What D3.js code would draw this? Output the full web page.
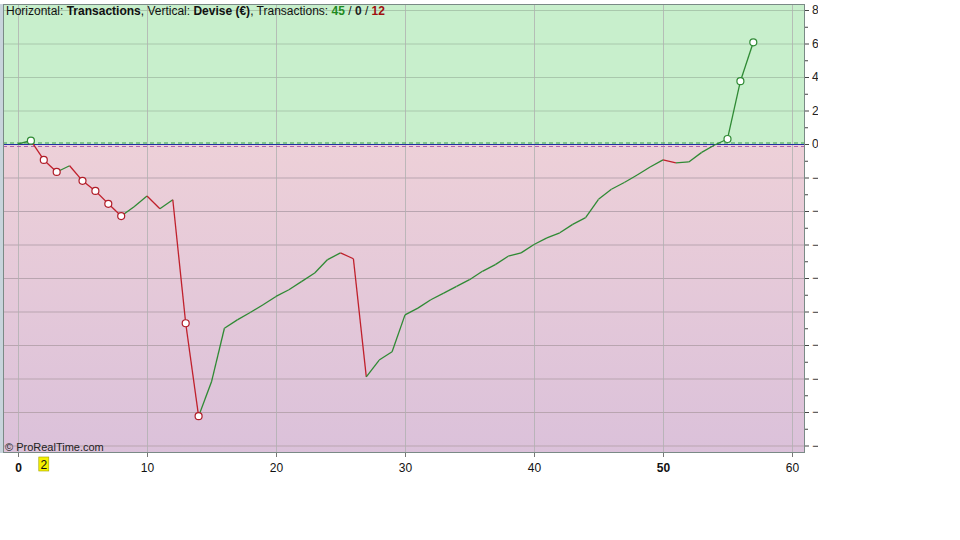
<!DOCTYPE html>
<html>
<head>
<meta charset="utf-8">
<script src="https://cdn.jsdelivr.net/npm/d3@7"></script>
<style>
  body { margin: 0; background: #fff; }
  svg { font-family: "Liberation Sans", Arial, sans-serif; }
</style>
</head>
<body>
<div id="chart"></div>
<script>
var width = 960;
var height = 540;

// equity curve, one value per closed transaction (Devise, €)
var equity = [0, 0.2, -0.95, -1.67, -1.3, -2.2, -2.8, -3.57, -4.3, -3.75,
    -3.1, -3.87, -3.33, -10.7, -16.25, -14.2, -11, -10.5, -10.06, -9.6,
    -9.1, -8.7, -8.2, -7.7, -6.9, -6.5, -6.85, -13.9, -12.9, -12.4,
    -10.2, -9.8, -9.3, -8.9, -8.5, -8.1, -7.6, -7.2, -6.7, -6.5,
    -6, -5.6, -5.3, -4.8, -4.4, -3.3, -2.7, -2.3, -1.85, -1.37,
    -0.95, -1.13, -1.07, -0.5, -0.06, 0.3, 3.75, 6.07];
var markedPoints = [1, 2, 3, 5, 6, 7, 8, 13, 14, 55, 56, 57];
var xTicks = [0, 10, 20, 30, 40, 50, 60];
var xBoldTicks = [0, 50];
var yMajor = d3.range(-18, 9, 2);
var yMinor = d3.range(-17, 9, 2);

var plot = { left: 3, right: 805, top: 4, bottom: 453 };

var x = d3.scaleLinear()
    .domain([0, 60])
    .range([18, 792]);

var y = d3.scaleLinear()
    .domain([0, 8])
    .range([144, 10]);

var svg = d3.select('#chart').append('svg')
    .attr('width', width)
    .attr('height', height);

var defs = svg.append('defs');
var grad = defs.append('linearGradient')
    .attr('id', 'lossGrad')
    .attr('x1', 0).attr('y1', 0).attr('x2', 0).attr('y2', 1);
grad.append('stop').attr('offset', '0%').attr('stop-color', '#edd0d8');
grad.append('stop').attr('offset', '100%').attr('stop-color', '#dbc1da');

defs.append('clipPath').attr('id', 'plotClip')
    .append('rect')
    .attr('x', plot.left).attr('y', plot.top)
    .attr('width', plot.right - plot.left)
    .attr('height', plot.bottom - plot.top);

// the right scale is cut off in the original screenshot
defs.append('clipPath').attr('id', 'labelClip')
    .append('rect')
    .attr('x', -2).attr('y', 0)
    .attr('width', 15).attr('height', 470);

// strip of the neighbouring window on the left
svg.append('rect')
    .attr('x', 0).attr('y', plot.top)
    .attr('width', plot.left).attr('height', plot.bottom - plot.top)
    .attr('fill', '#c8d4dc');

// backgrounds
svg.append('rect')
    .attr('x', plot.left).attr('y', plot.top)
    .attr('width', plot.right - plot.left)
    .attr('height', y(0) - plot.top)
    .attr('fill', '#c8efcc');

svg.append('rect')
    .attr('x', plot.left).attr('y', y(0))
    .attr('width', plot.right - plot.left)
    .attr('height', plot.bottom - y(0))
    .attr('fill', 'url(#lossGrad)');

// grid
var grid = svg.append('g').attr('clip-path', 'url(#plotClip)');
grid.selectAll('.hgrid')
    .data(yMajor.filter(d => d != 0))
    .enter()
    .append('line')
    .attr('x1', plot.left).attr('x2', plot.right)
    .attr('y1', d => y(d) + 0.5).attr('y2', d => y(d) + 0.5)
    .attr('stroke', d => d > 0 ? '#a9c8ac' : '#b9a5b0')
    .attr('stroke-width', 1);

grid.selectAll('.vgrid')
    .data(xTicks)
    .enter()
    .append('line')
    .attr('x1', d => x(d) + 0.5).attr('x2', d => x(d) + 0.5)
    .attr('y1', plot.top).attr('y2', plot.bottom)
    .attr('stroke', '#b0b0b0')
    .attr('stroke-opacity', 0.8);

// zero lines
svg.append('line')
    .attr('x1', plot.left).attr('x2', plot.right)
    .attr('y1', y(0) - 1).attr('y2', y(0) - 1)
    .attr('stroke', '#3c9a4a').attr('stroke-dasharray', '4,3');
svg.append('line')
    .attr('x1', plot.left).attr('x2', plot.right)
    .attr('y1', y(0) + 0.5).attr('y2', y(0) + 0.5)
    .attr('stroke', '#2030a0');
svg.append('line')
    .attr('x1', plot.left).attr('x2', plot.right)
    .attr('y1', y(0) + 2.5).attr('y2', y(0) + 2.5)
    .attr('stroke', '#b060b0').attr('stroke-dasharray', '4,3');

// border
svg.append('rect')
    .attr('x', plot.left + 0.5).attr('y', plot.top + 0.5)
    .attr('width', plot.right - plot.left - 1)
    .attr('height', plot.bottom - plot.top - 1)
    .attr('fill', 'none')
    .attr('stroke', '#7a8a86');

// equity segments, red when falling, green when rising
var segments = d3.pairs(equity.map((v, i) => [i, v]));
var line = d3.line()
    .x(d => x(d[0]))
    .y(d => y(d[1]));

svg.append('g')
    .attr('clip-path', 'url(#plotClip)')
    .selectAll('path')
    .data(segments)
    .enter()
    .append('path')
    .attr('d', d => line(d))
    .attr('fill', 'none')
    .attr('stroke', d => d[1][1] < d[0][1] ? '#c0202c' : '#2f8a34')
    .attr('stroke-width', 1.3);

svg.append('g')
    .selectAll('circle')
    .data(markedPoints)
    .enter()
    .append('circle')
    .attr('cx', i => x(i))
    .attr('cy', i => y(equity[i]))
    .attr('r', 3.5)
    .attr('fill', '#fff')
    .attr('stroke', i => equity[i] < equity[i - 1] ? '#b01c28' : '#2f8a34')
    .attr('stroke-width', 1.2);

// right axis
var yAxis = d3.axisRight(y)
    .tickValues(yMajor)
    .tickSize(4)
    .tickPadding(3)
    .tickFormat(d3.format('d'));

var yAxis_g = svg.append('g')
    .attr('transform', `translate(${plot.right}, 0)`)
    .attr('clip-path', 'url(#labelClip)')
    .call(yAxis);
yAxis_g.select('.domain').remove();
yAxis_g.selectAll('line').attr('stroke', '#444');
yAxis_g.selectAll('text')
    .attr('font-size', 12)
    .attr('fill', '#222')
    .attr('font-family', '"Liberation Sans", Arial, sans-serif');

var yMinor_g = svg.append('g')
    .attr('transform', `translate(${plot.right}, 0)`)
    .call(d3.axisRight(y).tickValues(yMinor).tickSize(3).tickFormat(''));
yMinor_g.select('.domain').remove();
yMinor_g.selectAll('line').attr('stroke', '#444');

// bottom axis
var xAxis = d3.axisBottom(x)
    .tickValues(xTicks)
    .tickSize(4)
    .tickPadding(6)
    .tickFormat(d3.format('d'));

var xAxis_g = svg.append('g')
    .attr('transform', `translate(0, ${plot.bottom})`)
    .call(xAxis);
xAxis_g.select('.domain').remove();
xAxis_g.selectAll('line').attr('stroke', '#777');
xAxis_g.selectAll('text')
    .attr('font-size', 12)
    .attr('fill', '#111')
    .attr('font-family', '"Liberation Sans", Arial, sans-serif')
    .attr('font-weight', d => xBoldTicks.includes(d) ? 'bold' : 'normal');

// highlighted transaction number
var hl = svg.append('g').attr('transform', `translate(${x(2)}, 0)`);
hl.append('rect')
    .attr('x', -5).attr('y', 457)
    .attr('width', 10).attr('height', 14)
    .attr('fill', '#f4f000')
    .attr('stroke', '#a0a000')
    .attr('stroke-width', 0.6);
hl.append('text')
    .attr('x', 0).attr('y', 469)
    .attr('text-anchor', 'middle')
    .attr('font-size', 12)
    .attr('fill', '#111')
    .text('2');

// header
var title = svg.append('text')
    .attr('x', 6).attr('y', 15)
    .attr('font-size', 12)
    .attr('fill', '#111');
title.append('tspan').text('Horizontal: ');
title.append('tspan').attr('font-weight', 'bold').text('Transactions');
title.append('tspan').text(', Vertical: ');
title.append('tspan').attr('font-weight', 'bold').text('Devise (€)');
title.append('tspan').text(', Transactions: ');
title.append('tspan').attr('font-weight', 'bold').attr('fill', '#1f8a1f').text('45');
title.append('tspan').text(' / ');
title.append('tspan').attr('font-weight', 'bold').attr('fill', '#222').text('0');
title.append('tspan').text(' / ');
title.append('tspan').attr('font-weight', 'bold').attr('fill', '#a01010').text('12');

svg.append('text')
    .attr('x', 5).attr('y', 451)
    .attr('font-size', 11)
    .attr('fill', '#222')
    .text('© ProRealTime.com');
</script>
</body>
</html>
